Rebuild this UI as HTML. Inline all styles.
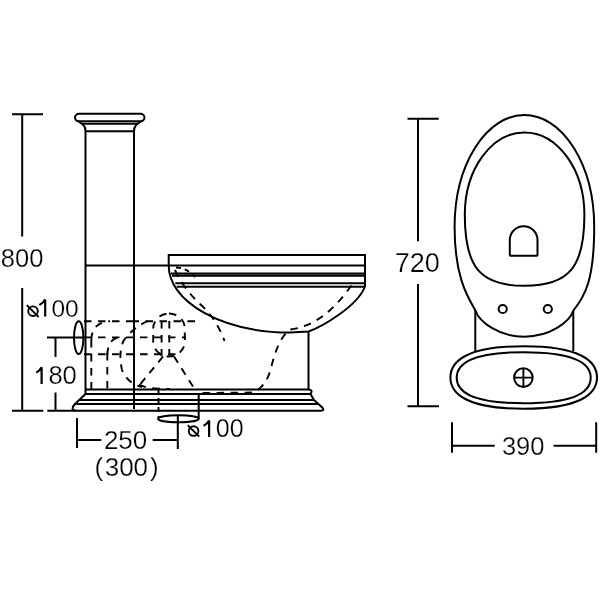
<!DOCTYPE html>
<html><head><meta charset="utf-8"><style>
html,body{margin:0;padding:0;background:#fff;width:600px;height:600px;overflow:hidden}
svg{display:block;will-change:transform}
text{font-family:"Liberation Sans",sans-serif;fill:#000;stroke:#fff;stroke-width:0.25px}
</style></head><body>
<svg width="600" height="600" viewBox="0 0 600 600">
<g fill="none" stroke="#000" stroke-width="2">
<!-- 800 dimension -->
<path d="M12 114.3H43 M22.2 114.3V236.5 M22.2 288V410.8"/>
<!-- floor -->
<path d="M12 410.8H43.3 M47.3 410.8H76"/>
<!-- 180 dimension -->
<path d="M47 337.5H83 M55.5 337.5V357 M55.5 392.5V410.8"/>
<!-- column cap -->
<rect x="75" y="113.8" width="69.5" height="7.5" rx="4" ry="3.75"/>
<path d="M81.5 123.8H138"/>
<path d="M78.5 121.5 C83 124 85.5 126 85.5 131 M141 121.5 C136.5 124 134 126 134 131"/>
<path d="M85.5 131.3H134"/>
<!-- column -->
<path d="M85.5 131V394 M134 131V409"/>
<path d="M85.5 265.4H365"/>
<!-- rim -->
<path d="M168.7 265.4V255H365V287"/>
<path d="M171 273.5H365 M172 275.8H365 M175.3 283.3H365 M176.7 286.8H365"/>
<!-- bowl -->
<path d="M168.7 265.5 A121.3 67 0 0 0 290 332.5 L308.5 331.5 C322 326.8 357 306.5 364.8 287"/>
<path d="M308.5 331.5V389.5"/>
<!-- base -->
<path d="M85.7 389.5H309 Q312 390 311.5 392 L310.5 394"/>
<path d="M85.7 394H310.5"/>
<path d="M85.5 394 L74.5 404.5 Q72 407.5 72.8 409.2 Q73.6 410.8 76.5 410.8 H320 Q324.8 410.8 322.5 407.8 L314 400 Q312.5 397.5 310.5 394"/>
<path d="M79.5 400H314 M75.5 404H318"/>
<!-- drain -->
<ellipse cx="178.4" cy="418.7" rx="20.3" ry="3.5"/>
<path d="M198.7 393V418.7"/>
<!-- 250 dimension -->
<path d="M77 418V448 M77 440H101.3 M152.7 440H177.5 M177.8 415V449"/>
<!-- pipe inlet -->
<ellipse cx="78.7" cy="337.7" rx="4.7" ry="16.4"/>
<!-- 390 dimension -->
<path d="M452 422.3V452.7 M452 445.7H494.7 M553.6 445.7H596.2 M596.2 422.3V452.7"/>
<!-- 720 dimension -->
<path d="M407.5 118.8H438.7 M418 118.8V241.3 M418 284V406.2 M407.5 406.2H439"/>
</g>
<!-- dashed internals -->
<g fill="none" stroke="#000" stroke-width="1.9" stroke-dasharray="7.5 6.5">
<path d="M84 321.3H134 M195 321.3H134 M84 337.4H186 M84 354.3H180"/>
<path d="M91.3 340V392 M107.3 353V390"/>
<path d="M91.3 340 Q92 322 110 321.3"/>
<path d="M107.3 355 Q108 338 120 337.4"/>
<path d="M148 321 Q134 327 124 340 Q118 352 122 370 Q128 384 142 387"/>
<rect x="153.2" y="313.5" width="31.6" height="43" rx="15.8" ry="15"/>
<path d="M161.6 321V357 M169.3 321V357"/>
<path d="M163 356.5 L140 384.5 M174 356.5 L195.5 390.5"/>
<path d="M139 384.5 Q146 389 170 389"/>
<path d="M175 270 Q183 288 200 304 Q216 318 224.5 341"/>
<path d="M176 267.5 Q187 268 195 277" stroke-dasharray="5 4"/>
<path d="M158.5 389V418" stroke-dasharray="5 4"/>
<path d="M351.5 285.5 C342.5 297.5 322 326 290 329.5 C280 337 275 352 271 368 C268 380 262 389 253 392.5 L198 393"/>
</g>
<!-- right view -->
<g fill="none" stroke="#000" stroke-width="2">
<!-- outer contour -->
<path d="M454.6 227 A69.8 112 0 0 1 594.2 227 C594.2 280 585 296 573.4 310.5 C569.5 322 550 336.7 524.4 336.7 C498.8 336.7 479.3 322 475.4 310.5 C467 296 454.6 276 454.6 227 Z"/>
<!-- inner seat -->
<path d="M464.8 215 C464.8 169 491.8 132.4 524.5 132.4 C557.2 132.4 584.4 169 584.4 215 C584.4 267 569 285.8 524.5 285.8 C480 285.8 464.8 267 464.8 215 Z"/>
<!-- D shape -->
<path d="M509.8 240 A13.85 13.85 0 0 1 537.5 240 V254.2 Q537.5 255.8 536 255.8 H511.3 Q509.8 255.8 509.8 254.2 Z"/>
<circle cx="502.7" cy="309" r="4.1"/>
<circle cx="547.8" cy="309" r="4.1"/>
<path d="M475.3 310.5V351 M573.3 310.5V351"/>
<!-- tank -->
<path d="M450.4 377.5 C450.4 361.12 466.89 346.3 523.7 346.3 C580.51 346.3 597 361.12 597 377.5 C597 393.88 580.51 408.7 523.7 408.7 C466.89 408.7 450.4 393.88 450.4 377.5 Z"/>
<path d="M456.7 377.7 C456.7 364.95 470.1 352.2 523.7 352.2 C577.3 352.2 590.7 364.95 590.7 377.7 C590.7 390.45 577.3 403.2 523.7 403.2 C470.1 403.2 456.7 390.45 456.7 377.7 Z"/>
<circle cx="523.4" cy="377.6" r="9.3" stroke-width="2"/>
<path d="M514 377.6H532.8 M523.4 368.3V387" stroke-width="1.9"/>
</g>
<!-- texts -->
<g>
<text x="0.8" y="267" font-size="25.5">800</text>
<text x="48.38" y="384.3" font-size="25.5">80</text>
<text x="103.9" y="449.4" font-size="26">250</text>
<text x="501.9" y="454.8" font-size="25.5">390</text>
<text x="394.8" y="271.8" font-size="27">720</text>
<text x="51.42" y="316.6" font-size="24.5">00</text>
<text x="215.8" y="436.9" font-size="25">00</text>
<text x="104.7" y="476.2" font-size="26">300</text>
<text x="94.5" y="476.2" font-size="26">(</text>
<text x="150" y="476.2" font-size="26">)</text>
</g>
<!-- digit ones -->
<g fill="none" stroke="#000" stroke-width="2.2" stroke-linejoin="miter">
<path d="M39.4 305 Q43.3 303.2 45.2 299.6 V316.6"/>
<path d="M36.2 372.6 Q40 370.6 41.6 367.2 V384"/>
<path d="M203.6 425.8 Q207.4 423.8 209.1 420.4 V437.1"/>
</g>
<!-- diameter symbols -->
<g fill="none" stroke="#000" stroke-width="1.9">
<circle cx="33" cy="311.2" r="4.8"/>
<path d="M26.8 305.2 L38.6 317"/>
<circle cx="193.6" cy="431.1" r="4.8"/>
<path d="M187.7 425.2 L199.3 436.6"/>
</g>
</svg>
</body></html>
